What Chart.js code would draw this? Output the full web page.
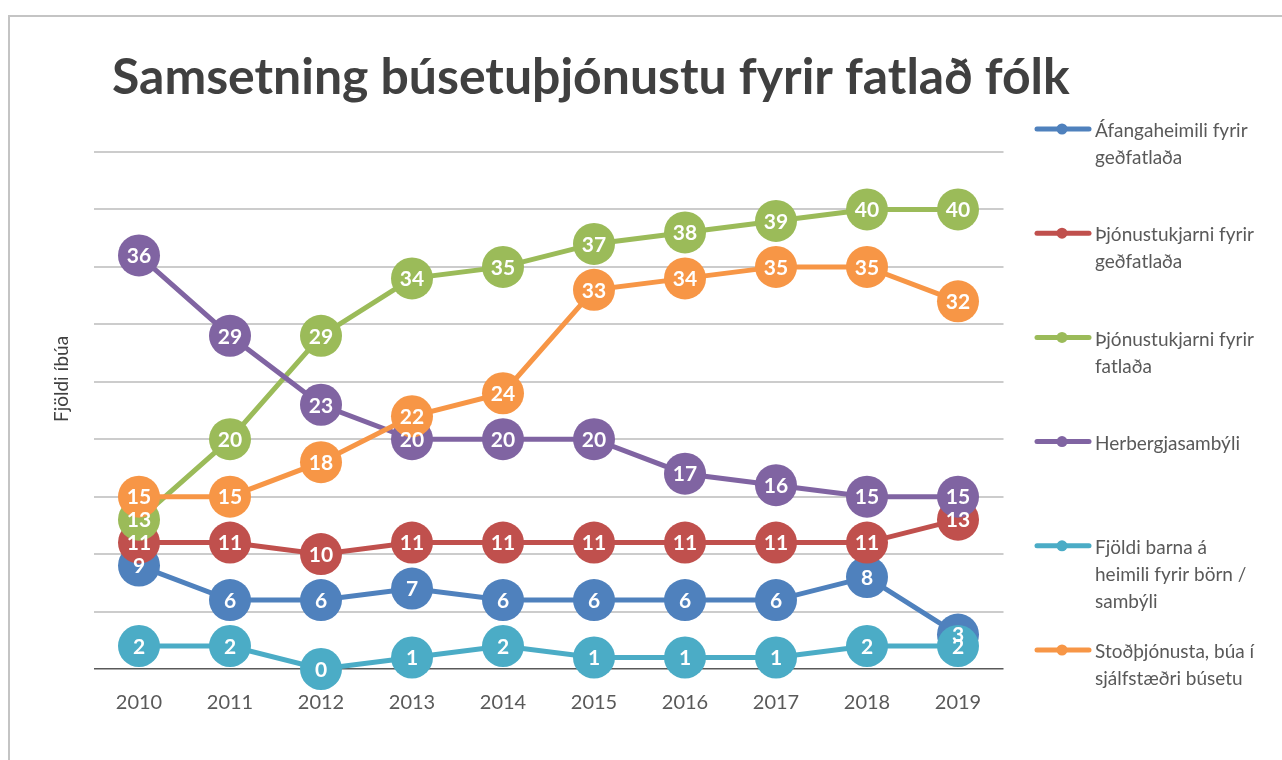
<!DOCTYPE html>
<html>
<head>
<meta charset="utf-8">
<script src="https://cdn.jsdelivr.net/npm/chart.js@4/dist/chart.umd.min.js"></script>
<style>
  html, body { margin: 0; padding: 0; background: #ffffff; }
  #wrap { position: relative; width: 1282px; height: 760px; }
</style>
</head>
<body>
<div id="wrap"><canvas id="c" width="1282" height="760"></canvas></div>
<script>
// ---- Data ----
const chartTitle = 'Samsetning búsetuþjónustu fyrir fatlað fólk';
const yAxisTitle = 'Fjöldi íbúa';
const years = ['2010', '2011', '2012', '2013', '2014', '2015', '2016', '2017', '2018', '2019'];

const seriesNames = [
  ['Áfangaheimili fyrir', 'geðfatlaða'],
  ['Þjónustukjarni fyrir', 'geðfatlaða'],
  ['Þjónustukjarni fyrir', 'fatlaða'],
  ['Herbergjasambýli'],
  ['Fjöldi barna á', 'heimili fyrir börn /', 'sambýli'],
  ['Stoðþjónusta, búa í', 'sjálfstæðri búsetu']
];
const seriesColors = ['#4f81bd', '#c0504d', '#9bbb59', '#8064a2', '#4bacc6', '#f79646'];

const afangaheimili   = [9, 6, 6, 7, 6, 6, 6, 6, 8, 3];
const thjonGedfatl    = [11, 11, 10, 11, 11, 11, 11, 11, 11, 13];
const thjonFatl       = [13, 20, 29, 34, 35, 37, 38, 39, 40, 40];
const herbergja       = [36, 29, 23, 20, 20, 20, 17, 16, 15, 15];
const bornSambyli     = [2, 2, 0, 1, 2, 1, 1, 1, 2, 2];
const stodthjonusta   = [15, 15, 18, 22, 24, 33, 34, 35, 35, 32];

const seriesValues = [afangaheimili, thjonGedfatl, thjonFatl, herbergja, bornSambyli, stodthjonusta];
const yMin = 0, yMax = 45, yStep = 5;

// ---- Build datasets ----
const datasets = seriesValues.map((vals, i) => ({
  label: seriesNames[i].join(' '),
  data: vals,
  borderColor: seriesColors[i],
  backgroundColor: seriesColors[i],
  pointBackgroundColor: seriesColors[i],
  pointBorderWidth: 0,
  pointRadius: 21,
  pointHoverRadius: 21,
  borderWidth: 5,
  tension: 0,
  clip: false,
  order: seriesValues.length - 1 - i
}));

const FONT = 'Lato, "Open Sans", sans-serif';

const decorPlugin = {
  id: 'decor',
  beforeDraw(chart) {
    const ctx = chart.ctx;
    ctx.save();
    // outer frame
    ctx.strokeStyle = '#c4c4c4';
    ctx.lineWidth = 2;
    ctx.beginPath();
    ctx.moveTo(9, 760);
    ctx.lineTo(9, 16);
    ctx.lineTo(1282, 16);
    ctx.stroke();

    // title
    ctx.fillStyle = '#404040';
    ctx.font = 'bold 100px ' + FONT;
    const w100 = ctx.measureText(chartTitle).width;
    const size = 100 * 958 / w100;
    ctx.font = 'bold ' + size.toFixed(2) + 'px ' + FONT;
    ctx.textAlign = 'left';
    ctx.textBaseline = 'alphabetic';
    ctx.fillText(chartTitle, 112, 94);

    // y axis title
    ctx.save();
    ctx.translate(62, 379);
    ctx.rotate(-Math.PI / 2);
    ctx.font = '19px ' + FONT;
    ctx.fillStyle = '#404040';
    ctx.textAlign = 'center';
    ctx.textBaseline = 'middle';
    ctx.fillText(yAxisTitle, 0, 0);
    ctx.restore();

    // legend
    const legendTop = 129, legendStep = 104.2, lineH = 27;
    ctx.font = '19px ' + FONT;
    ctx.textAlign = 'left';
    ctx.textBaseline = 'middle';
    seriesNames.forEach((lines, i) => {
      const y = legendTop + i * legendStep;
      ctx.strokeStyle = seriesColors[i];
      ctx.lineWidth = 5;
      ctx.lineCap = 'round';
      ctx.beginPath();
      ctx.moveTo(1037, y);
      ctx.lineTo(1089, y);
      ctx.stroke();
      ctx.fillStyle = seriesColors[i];
      ctx.beginPath();
      ctx.arc(1062, y, 5.5, 0, Math.PI * 2);
      ctx.fill();
      ctx.fillStyle = '#595959';
      lines.forEach((t, k) => ctx.fillText(t, 1095, y + 2 + k * lineH));
    });
    ctx.restore();
  },
  afterDatasetsDraw(chart) {
    const ctx = chart.ctx;
    ctx.save();
    ctx.font = 'bold 21px ' + FONT;
    ctx.fillStyle = '#ffffff';
    ctx.textAlign = 'center';
    ctx.textBaseline = 'middle';
    chart.data.datasets.forEach((ds, di) => {
      const meta = chart.getDatasetMeta(di);
      meta.data.forEach((pt, pi) => {
        ctx.fillText(String(ds.data[pi]), pt.x, pt.y + 1);
      });
    });
    ctx.restore();
  }
};

new Chart(document.getElementById('c'), {
  type: 'line',
  data: { labels: years, datasets },
  options: {
    responsive: false,
    animation: false,
    events: [],
    layout: { padding: { left: 0, top: 152, right: 278.5, bottom: 0 } },
    plugins: {
      legend: { display: false },
      title: { display: false },
      tooltip: { enabled: false }
    },
    scales: {
      x: {
        offset: true,
        grid: { display: false },
        border: { display: false },
        ticks: { color: '#595959', font: { family: FONT, size: 20 }, padding: 14 },
        afterFit(s) { s.height = 91; }
      },
      y: {
        min: yMin, max: yMax,
        ticks: { display: false, stepSize: yStep },
        border: { display: false },
        grid: {
          drawTicks: false,
          color: (c) => c.tick && c.tick.value === 0 ? '#595959' : '#cccccc',
          lineWidth: (c) => c.tick && c.tick.value === 0 ? 1.5 : 2
        },
        afterFit(s) { s.width = 93.5; }
      }
    }
  },
  plugins: [decorPlugin]
});
</script>
</body>
</html>
